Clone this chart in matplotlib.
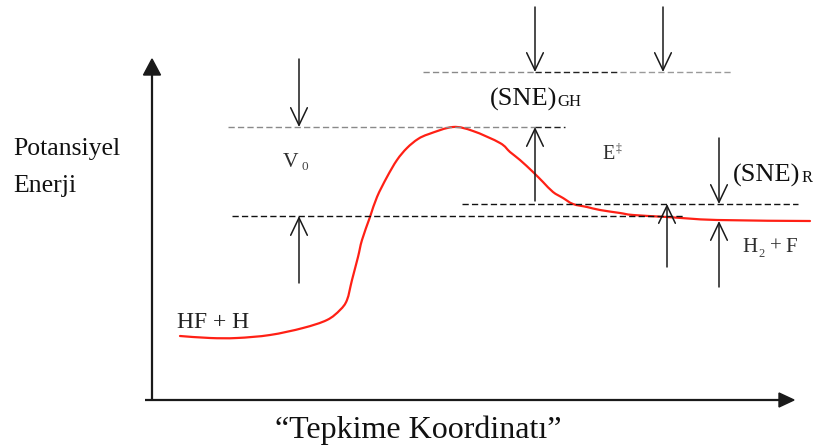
import matplotlib
matplotlib.use("Agg")
import matplotlib.pyplot as plt
import numpy as np
from matplotlib.patches import FancyArrowPatch, Polygon, PathPatch
from matplotlib.path import Path

plt.rcParams['font.family'] = ['Liberation Serif', 'DejaVu Serif']

# ---- data (reaction coordinate, potential energy) ----
coord = [180, 210, 237, 270, 303, 327, 340, 347, 352, 358, 362, 370, 377, 387,
         397, 407, 418, 429, 453, 473, 500, 510, 520, 533, 543, 553, 563, 573,
         587, 600, 620, 633, 667, 717, 810]
energy = [64, 62, 62, 65, 72, 80, 90, 100, 120, 143, 160, 183, 203, 223,
          240, 252, 261, 266, 273, 269, 257, 248, 240, 228, 218, 208, 202, 196,
          193, 190, 187, 185, 183, 180, 179]

barrier_top = 273        # V0 / E‡ top level
reactant_zpe = 184       # reactant zero-point level
product_zpe = 196        # product zero-point level
product_level = 179      # H2 + F level
sne_gh_level = 328       # (SNE)GH level

labels = {
    "ylabel": ["Potansiyel", "Enerji"],
    "xlabel": "“Tepkime Koordinatı”",
}

fig = plt.figure(figsize=(8.13, 4.48), dpi=100)
ax = fig.add_axes([0, 0, 1, 1])
ax.set_xlim(0, 813)
ax.set_ylim(-48, 400)
ax.axis('off')

# axes with arrowheads
axc = '#1a1a1a'
ax.plot([152, 152], [0, 327], color=axc, lw=1.6, solid_capstyle='butt')
ax.add_patch(Polygon([[143.5, 325], [160.5, 325], [152, 341]], closed=True, color=axc))
ax.plot([145, 782], [0, 0], color=axc, lw=1.6, solid_capstyle='butt')
ax.add_patch(Polygon([[779, 7], [779, -7], [794, 0]], closed=True, color=axc))

# dashed reference lines
dash = (0, (4.5, 2.3))
def hline(y, x0, x1, c):
    ax.plot([x0, x1], [y, y], color=c, lw=1.0, linestyle=dash)

hline(barrier_top, 228, 535, '#8a8a8a')
hline(barrier_top, 535, 565, '#222222')
hline(sne_gh_level, 423, 535, '#8a8a8a')
hline(sne_gh_level, 535, 620, '#222222')
hline(sne_gh_level, 620, 731, '#9a9a9a')
hline(reactant_zpe, 232, 683, '#111111')
hline(product_zpe, 462, 798, '#111111')

# potential energy curve: smooth Bezier path through the read points
P = np.column_stack([coord, energy]).astype(float)
verts = [P[0]]
codes = [Path.MOVETO]
for i in range(len(P) - 1):
    p0 = P[i - 1] if i > 0 else P[i]
    p1, p2 = P[i], P[i + 1]
    p3 = P[i + 2] if i + 2 < len(P) else P[i + 1]
    c1 = p1 + (p2 - p0) / 6.0
    c2 = p2 - (p3 - p1) / 6.0
    verts += [c1, c2, p2]
    codes += [Path.CURVE4] * 3
ax.add_patch(PathPatch(Path(verts, codes), facecolor='none', edgecolor='#ff2015',
                       lw=1.6, capstyle='round', joinstyle='round'))

# arrows
def arrow(x, y0, y1):
    a = FancyArrowPatch((x, y0), (x, y1),
                        arrowstyle='->,head_length=0.42,head_width=0.2',
                        mutation_scale=30, color='#1a1a1a', lw=1.1,
                        shrinkA=0, shrinkB=0)
    ax.add_patch(a)

arrow(299, 400 - 59, barrier_top)          # V0 down
arrow(299, 400 - 283, reactant_zpe)        # V0 up
arrow(535, 400 - 7, sne_gh_level)          # SNE GH
arrow(663, 400 - 7, sne_gh_level)          # SNE GH
arrow(535, 400 - 201, barrier_top)         # E‡ up
arrow(667, 400 - 267, product_zpe)         # small up
arrow(719, 400 - 138, product_zpe)         # SNE R down
arrow(719, 400 - 287, 400 - 221)           # SNE R up

# texts
def txt(x, ypx, s, size, color='#111111', weight='normal'):
    ax.text(x, 400 - ypx, s, fontsize=size, color=color, ha='left',
            va='baseline', fontweight=weight)

g = '#2e2e2e'
txt(13, 155, labels["ylabel"][0], 18.5)
txt(13, 192, labels["ylabel"][1], 18.5)
ax.text(418, 400 - 438, labels["xlabel"], fontsize=23, color='#111111',
        ha='center', va='baseline')

txt(283, 167, "V", 15.5, g)
txt(301.5, 170, "0", 9.5, '#444444')
txt(177, 328, "HF + H", 17, '#222222')
txt(490, 106, "(SNE)", 19)
txt(557, 106, "GH", 12)
txt(602, 159, "E", 14.5, g)
txt(616, 151, "‡", 8.5, '#444444')
txt(733, 182, "(SNE)", 19)
txt(802, 182, "R", 12)
txt(742, 252, "H", 15, g)
txt(758.5, 257, "2", 9, '#444444')
txt(770, 252, "+", 15, g)
txt(785, 252, "F", 15, g)

fig.savefig("out.png", dpi=100)
